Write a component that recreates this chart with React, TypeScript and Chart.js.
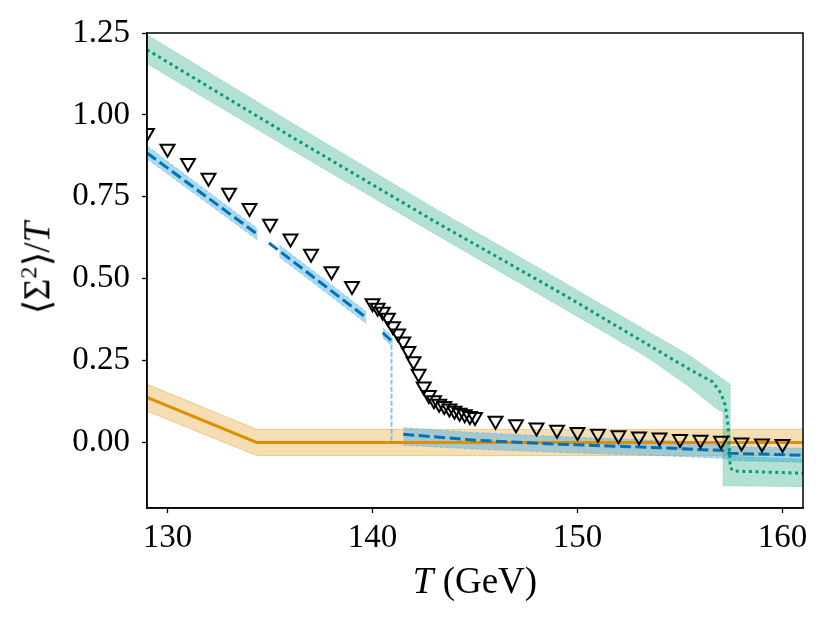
import { useEffect, useRef } from 'react';
import { Chart, registerables } from 'chart.js';

Chart.register(...registerables);

// temperature ticks / value ticks
const xTicks = [130, 140, 150, 160];
const yTicks = [0, 0.25, 0.5, 0.75, 1.0, 1.25];

// lattice points (open triangles)
const latticeT = [
  129, 130, 131, 132, 133, 134, 135, 136, 137, 138, 139,
  140, 140.25, 140.5, 140.75, 141, 141.25, 141.5, 141.75, 142, 142.25, 142.5,
  142.75, 143, 143.25, 143.5, 143.75, 144, 144.25, 144.5, 144.75, 145,
  146, 147, 148, 149, 150, 151, 152, 153, 154, 155, 156, 157, 158, 159, 160,
];
const latticeY = [
  0.945, 0.897, 0.853, 0.808, 0.762, 0.716, 0.668, 0.623, 0.576, 0.523, 0.478,
  0.425, 0.411, 0.399, 0.381, 0.355, 0.333, 0.308, 0.279, 0.248, 0.21, 0.171,
  0.145, 0.129, 0.118, 0.111, 0.104, 0.097, 0.091, 0.086, 0.081, 0.078,
  0.066, 0.056, 0.046, 0.039, 0.032, 0.027, 0.022, 0.018, 0.015, 0.011, 0.008, 0.005, 0.0, -0.003, -0.005,
];

// green (dotted) curve and its band
const greenT = [129, 136, 143, 149.3, 153.4, 155.5, 156.6, 157.0, 157.2, 157.35, 157.45, 157.6, 161];
const greenY = [1.199, 0.935, 0.676, 0.452, 0.3, 0.222, 0.185, 0.15, 0.115, 0.05, -0.076, -0.087, -0.094];
const greenHiT = [129, 136, 143, 149.3, 153.4, 155.5, 157.45, 157.45, 161];
const greenHiY = [1.245, 0.978, 0.716, 0.49, 0.34, 0.264, 0.178, -0.042, -0.05];
const greenLoT = [129, 136, 143, 149.3, 153.4, 155.5, 156.7, 157.1, 157.1, 161];
const greenLoY = [1.156, 0.895, 0.638, 0.41, 0.26, 0.168, 0.107, 0.091, -0.132, -0.135];

// blue (dashed) curve, in pieces
const blueAT = [129, 134.4];
const blueAY = [0.884, 0.635];
const blueAHi = [0.905, 0.652];
const blueALo = [0.866, 0.618];

const blueBT = [134.95, 139.7];
const blueBY = [0.609, 0.381];
const blueBBandT = [135.45, 139.7];
const blueBHi = [0.603, 0.399];
const blueBLo = [0.567, 0.363];

const blueCT = [140.5, 140.93];
const blueCY = [0.335, 0.31];
const blueCHi = [0.35, 0.325];
const blueCLo = [0.32, 0.295];

const blueDropT = [140.93, 140.93];
const blueDropY = [0.32, 0.0];

const blueDT = [141.5, 145, 149, 154, 157.2, 157.4, 161];
const blueDY = [0.025, 0.007, -0.005, -0.016, -0.025, -0.033, -0.039];
const blueDHi = [0.045, 0.03, 0.018, 0.006, -0.002, -0.012, -0.018];
const blueDLo = [-0.008, -0.02, -0.03, -0.04, -0.048, -0.055, -0.06];

// orange (solid) curve and band
const orangeT = [129, 134.35, 161];
const orangeY = [0.138, 0.0, 0.0];
const orangeHi = [0.178, 0.04, 0.04];
const orangeLo = [0.096, -0.04, -0.04];

const GREEN = '#029E73';
const BLUE = '#0173B2';
const ORANGE = '#DE8F05';

const pts = (xs: number[], ys: number[]) => xs.map((x, i) => ({ x, y: ys[i] }));

const curve = (xs: number[], ys: number[], extra: any) => ({
  data: pts(xs, ys),
  pointRadius: 0,
  fill: false,
  tension: 0,
  ...extra,
});

const band = (xsHi: number[], ysHi: number[], xsLo: number[], ysLo: number[], fillColor: string, edge: string, dash: number[], order: number) => [
  curve(xsHi, ysHi, { borderColor: edge, borderWidth: 1, borderDash: dash, backgroundColor: fillColor, fill: '+1', order }),
  curve(xsLo, ysLo, { borderColor: edge, borderWidth: 1, borderDash: dash, order }),
];

const framePlugin = {
  id: 'frame',
  afterDatasetsDraw(chart: Chart) {
    const { ctx, chartArea } = chart;
    ctx.save();
    ctx.strokeStyle = '#000';
    ctx.lineWidth = 1.5;
    ctx.strokeRect(chartArea.left, chartArea.top, chartArea.right - chartArea.left, chartArea.bottom - chartArea.top);
    ctx.restore();
  },
};

export default function App() {
  const chartRef = useRef<HTMLCanvasElement>(null);

  useEffect(() => {
    if (!chartRef.current) return;
    const tickFont = { family: '"Liberation Serif", serif', size: 33 };
    const axisGrid = { display: true, drawOnChartArea: false, drawTicks: true, tickLength: 5, color: '#000', tickWidth: 1.3 };

    const chart = new Chart(chartRef.current, {
      type: 'line',
      data: {
        datasets: [
          {
            data: pts(latticeT, latticeY),
            showLine: false,
            pointStyle: 'triangle',
            rotation: 180,
            pointRadius: 8,
            pointBorderWidth: 2,
            pointBorderColor: '#000',
            pointBackgroundColor: 'rgba(0,0,0,0)',
            order: 0,
          },
          curve(greenT, greenY, { borderColor: GREEN, borderWidth: 3, borderDash: [3, 3.6], order: 1 }),
          curve(blueAT, blueAY, { borderColor: BLUE, borderWidth: 3, borderDash: [11, 4.5], order: 2 }),
          curve(blueBT, blueBY, { borderColor: BLUE, borderWidth: 3, borderDash: [11, 4.5], order: 2 }),
          curve(blueCT, blueCY, { borderColor: BLUE, borderWidth: 3, borderDash: [11, 4.5], order: 2 }),
          curve(blueDT, blueDY, { borderColor: BLUE, borderWidth: 3, borderDash: [11, 4.5], order: 2 }),
          curve(blueDropT, blueDropY, { borderColor: 'rgba(86,180,233,0.8)', borderWidth: 1.8, borderDash: [5, 2], order: 2 }),
          curve(orangeT, orangeY, { borderColor: ORANGE, borderWidth: 3, order: 3 }),
          ...band(greenHiT, greenHiY, greenLoT, greenLoY, 'rgba(2,158,115,0.3)', 'rgba(2,158,115,0.35)', [1.5, 1.5], 4),
          ...band(blueAT, blueAHi, blueAT, blueALo, 'rgba(86,180,233,0.5)', 'rgba(86,180,233,0.6)', [4, 2], 5),
          ...band(blueBBandT, blueBHi, blueBBandT, blueBLo, 'rgba(86,180,233,0.5)', 'rgba(86,180,233,0.6)', [4, 2], 5),
          ...band(blueCT, blueCHi, blueCT, blueCLo, 'rgba(86,180,233,0.5)', 'rgba(86,180,233,0.6)', [4, 2], 5),
          ...band(blueDT, blueDHi, blueDT, blueDLo, 'rgba(86,180,233,0.5)', 'rgba(86,180,233,0.6)', [4, 2], 5),
          ...band(orangeT, orangeHi, orangeT, orangeLo, 'rgba(222,143,5,0.3)', 'rgba(222,143,5,0.4)', [], 6),
        ] as any,
      },
      options: {
        animation: false,
        responsive: false,
        layout: { padding: { top: 33, right: 27, left: 0, bottom: 0 } },
        plugins: {
          legend: { display: false },
          tooltip: { enabled: false },
        },
        scales: {
          x: {
            type: 'linear',
            min: 129,
            max: 161,
            afterBuildTicks: (s: any) => { s.ticks = xTicks.map(v => ({ value: v })); },
            afterFit: (s: any) => { s.height = 115; },
            ticks: { font: tickFont, color: '#000', padding: 6, maxRotation: 0 },
            grid: axisGrid,
            border: { display: true, color: '#000', width: 1.5 },
          },
          y: {
            type: 'linear',
            min: -0.2,
            max: 1.25,
            afterBuildTicks: (s: any) => { s.ticks = yTicks.map(v => ({ value: v })); },
            afterFit: (s: any) => { s.width = 147; },
            ticks: {
              font: tickFont,
              color: '#000',
              padding: 12,
              callback: (v: any) => Number(v).toFixed(2),
            },
            grid: axisGrid,
            border: { display: true, color: '#000', width: 1.5 },
          },
        },
      },
      plugins: [framePlugin],
    });

    return () => {
      chart.destroy();
    };
  }, []);

  return (
    <div style={{ position: 'fixed', left: 0, top: 0, width: 830, height: 623, background: '#fff' }}>
      <canvas ref={chartRef} width={830} height={623} />
      <div
        style={{
          position: 'absolute', left: 475, top: 580, transform: 'translate(-50%, -50%)',
          fontFamily: '"Liberation Serif", serif', fontSize: 37, whiteSpace: 'nowrap', color: '#000',
        }}
      >
        <i>T</i>&nbsp;(GeV)
      </div>
      <div
        style={{
          position: 'absolute', left: 37, top: 268, transform: 'translate(-50%, -50%) rotate(-90deg)',
          fontFamily: '"Liberation Serif", serif', fontSize: 37, whiteSpace: 'nowrap', color: '#000',
        }}
      >
        ⟨Σ<sup style={{ fontSize: '0.65em' }}>2</sup>⟩/<i>T</i>
      </div>
    </div>
  );
}
